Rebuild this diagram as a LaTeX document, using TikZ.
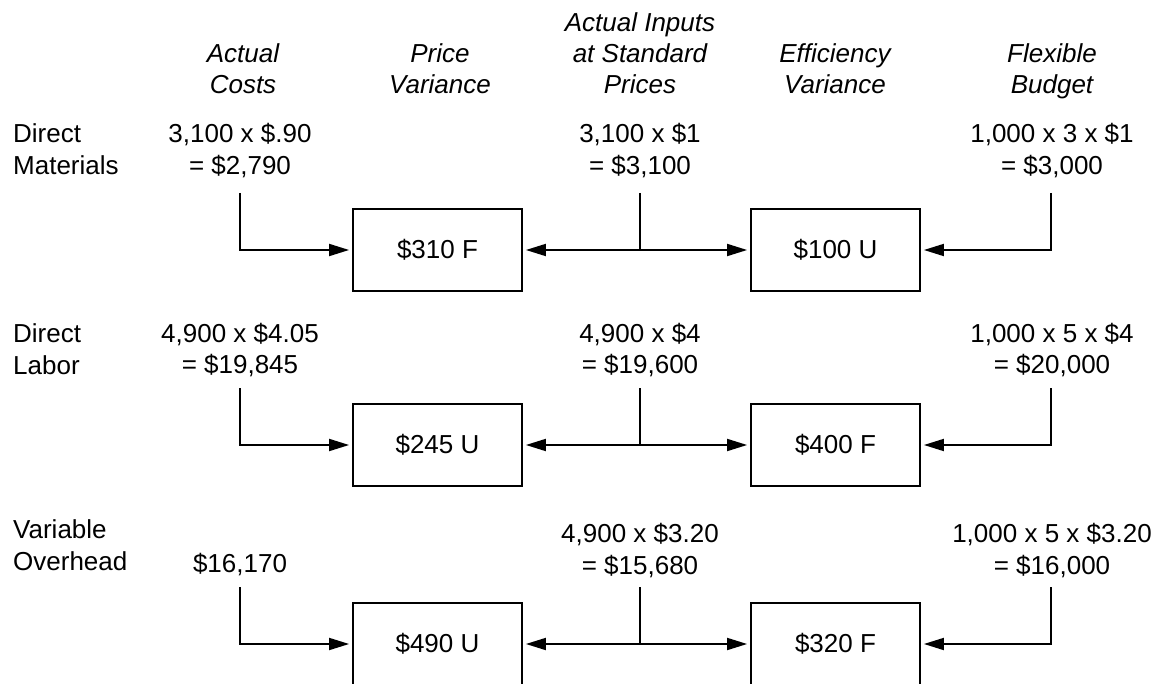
\documentclass[tikz,border=0pt]{standalone}
\usepackage{fontspec}
\setmainfont{Liberation Sans}
\usetikzlibrary{arrows.meta}
\newcommand{\mlc}[1]{\begin{tabular}[t]{@{}c@{}}#1\end{tabular}}
\newcommand{\mll}[1]{\begin{tabular}[t]{@{}l@{}}#1\end{tabular}}
\begin{document}
\begin{tikzpicture}[x=1pt,y=-1pt,
  txt/.style={inner sep=0pt, anchor=base, font=\fontsize{26}{32}\selectfont},
  lbl/.style={txt, anchor=base west},
  hdr/.style={inner sep=0pt, anchor=base, font=\fontsize{26}{31}\selectfont\itshape},
  varbox/.style={draw, line width=1.8pt, minimum width=169pt, minimum height=82pt, inner sep=0pt, font=\fontsize{26}{32}\selectfont},
  con/.style={line width=1.8pt},
  tip/.tip={Triangle[length=20pt,width=12pt]},
  arr/.style={con, -tip, shorten >=3pt},
  darr/.style={con, tip-tip, shorten >=3pt, shorten <=3pt},
]
\clip (0,0) rectangle (1156,684);
\useasboundingbox (0,0) rectangle (1156,684);

% headers
\node[hdr] (hA) at (243,63) {\mlc{Actual\\Costs}};
\node[hdr] (hP) at (440,63) {\mlc{Price\\Variance}};
\node[hdr] (hI) at (640,32) {\mlc{Actual Inputs\\at Standard\\Prices}};
\node[hdr] (hE) at (835,63) {\mlc{Efficiency\\Variance}};
\node[hdr] (hF) at (1052,63) {\mlc{Flexible\\Budget}};

% row labels
\node[lbl] (l1) at (13,143) {\mll{Direct\\Materials}};
\node[lbl] (l2) at (13,343) {\mll{Direct\\Labor}};
\node[lbl] (l3) at (13,538) {\mll{Variable\\Overhead}};

% row 1
\node[txt] (a1) at (240,143) {\mlc{3,100 x \$.90\\= \$2,790}};
\node[txt] (b1) at (640,143) {\mlc{3,100 x \$1\\= \$3,100}};
\node[txt] (c1) at (1052,143) {\mlc{1,000 x 3 x \$1\\= \$3,000}};
\node[varbox] (p1) at (437.5,250) {\$310 F};
\node[varbox] (e1) at (835.5,250) {\$100 U};
\coordinate (a1s) at (240,193);
\coordinate (b1s) at (640,193);
\coordinate (c1s) at (1051,193);
\draw[arr] (a1s) |- (p1.west);
\draw[arr] (c1s) |- (e1.east);
\draw[darr] (p1.east) -- (e1.west);
\draw[con] (b1s) -- (b1s |- p1.east);

% row 2
\node[txt] (a2) at (240,342) {\mlc{4,900 x \$4.05\\= \$19,845}};
\node[txt] (b2) at (640,342) {\mlc{4,900 x \$4\\= \$19,600}};
\node[txt] (c2) at (1052,342) {\mlc{1,000 x 5 x \$4\\= \$20,000}};
\node[varbox] (p2) at (437.5,445) {\$245 U};
\node[varbox] (e2) at (835.5,445) {\$400 F};
\coordinate (a2s) at (240,388);
\coordinate (b2s) at (640,388);
\coordinate (c2s) at (1051,388);
\draw[arr] (a2s) |- (p2.west);
\draw[arr] (c2s) |- (e2.east);
\draw[darr] (p2.east) -- (e2.west);
\draw[con] (b2s) -- (b2s |- p2.east);

% row 3
\node[txt] (a3) at (240,572) {\$16,170};
\node[txt] (b3) at (640,542) {\mlc{4,900 x \$3.20\\= \$15,680}};
\node[txt] (c3) at (1052,542) {\mlc{1,000 x 5 x \$3.20\\= \$16,000}};
\node[varbox] (p3) at (437.5,644) {\$490 U};
\node[varbox] (e3) at (835.5,644) {\$320 F};
\coordinate (a3s) at (240,587);
\coordinate (b3s) at (640,587);
\coordinate (c3s) at (1051,587);
\draw[arr] (a3s) |- (p3.west);
\draw[arr] (c3s) |- (e3.east);
\draw[darr] (p3.east) -- (e3.west);
\draw[con] (b3s) -- (b3s |- p3.east);
\end{tikzpicture}
\end{document}
